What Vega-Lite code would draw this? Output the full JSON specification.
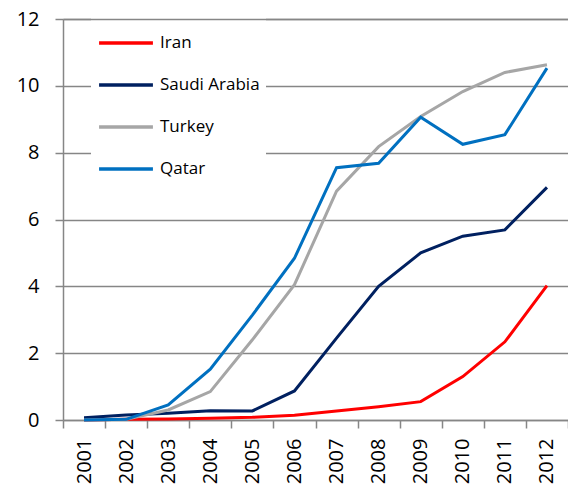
{
  "$schema": "https://vega.github.io/schema/vega-lite/v6.json",
  "width": 505,
  "height": 401,
  "autosize": "none",
  "padding": {"left": 63, "top": 19, "right": 0, "bottom": 78},
  "background": "white",
  "config": {"view": {"stroke": null}, "font": "Open Sans"},
  "data": {"values": [
    {"year": "2001", "country": "Iran", "value": 0.0},
    {"year": "2002", "country": "Iran", "value": 0.02},
    {"year": "2003", "country": "Iran", "value": 0.03},
    {"year": "2004", "country": "Iran", "value": 0.05},
    {"year": "2005", "country": "Iran", "value": 0.08},
    {"year": "2006", "country": "Iran", "value": 0.14},
    {"year": "2007", "country": "Iran", "value": 0.27},
    {"year": "2008", "country": "Iran", "value": 0.4},
    {"year": "2009", "country": "Iran", "value": 0.55},
    {"year": "2010", "country": "Iran", "value": 1.3},
    {"year": "2011", "country": "Iran", "value": 2.34},
    {"year": "2012", "country": "Iran", "value": 4.02},
    {"year": "2001", "country": "Saudi Arabia", "value": 0.07},
    {"year": "2002", "country": "Saudi Arabia", "value": 0.15},
    {"year": "2003", "country": "Saudi Arabia", "value": 0.2},
    {"year": "2004", "country": "Saudi Arabia", "value": 0.28},
    {"year": "2005", "country": "Saudi Arabia", "value": 0.27},
    {"year": "2006", "country": "Saudi Arabia", "value": 0.87},
    {"year": "2007", "country": "Saudi Arabia", "value": 2.45},
    {"year": "2008", "country": "Saudi Arabia", "value": 4.0},
    {"year": "2009", "country": "Saudi Arabia", "value": 5.0},
    {"year": "2010", "country": "Saudi Arabia", "value": 5.5},
    {"year": "2011", "country": "Saudi Arabia", "value": 5.69},
    {"year": "2012", "country": "Saudi Arabia", "value": 6.96},
    {"year": "2001", "country": "Turkey", "value": 0.0},
    {"year": "2002", "country": "Turkey", "value": 0.02},
    {"year": "2003", "country": "Turkey", "value": 0.3},
    {"year": "2004", "country": "Turkey", "value": 0.85},
    {"year": "2005", "country": "Turkey", "value": 2.4},
    {"year": "2006", "country": "Turkey", "value": 4.05},
    {"year": "2007", "country": "Turkey", "value": 6.85},
    {"year": "2008", "country": "Turkey", "value": 8.18},
    {"year": "2009", "country": "Turkey", "value": 9.08},
    {"year": "2010", "country": "Turkey", "value": 9.83},
    {"year": "2011", "country": "Turkey", "value": 10.4},
    {"year": "2012", "country": "Turkey", "value": 10.63},
    {"year": "2001", "country": "Qatar", "value": 0.0},
    {"year": "2002", "country": "Qatar", "value": 0.02},
    {"year": "2003", "country": "Qatar", "value": 0.45},
    {"year": "2004", "country": "Qatar", "value": 1.52},
    {"year": "2005", "country": "Qatar", "value": 3.14},
    {"year": "2006", "country": "Qatar", "value": 4.84},
    {"year": "2007", "country": "Qatar", "value": 7.55},
    {"year": "2008", "country": "Qatar", "value": 7.68},
    {"year": "2009", "country": "Qatar", "value": 9.06},
    {"year": "2010", "country": "Qatar", "value": 8.25},
    {"year": "2011", "country": "Qatar", "value": 8.54},
    {"year": "2012", "country": "Qatar", "value": 10.53}
  ]},
  "resolve": {"axis": {"x": "independent"}},
  "layer": [
    {
      "mark": {"type": "line", "strokeWidth": 3, "strokeJoin": "miter"},
      "encoding": {
        "x": {
          "field": "year", "type": "ordinal", "bandPosition": 0.5,
          "scale": {"type": "band", "paddingInner": 0, "paddingOuter": 0},
          "axis": {
            "title": null, "labelAngle": -90, "labelAlign": "right", "labelBaseline": "middle",
            "labelFontSize": 20, "labelColor": "black", "labelPadding": 10,
            "tickBand": "extent", "tickSize": 8, "tickColor": "#868686", "tickWidth": 1.5,
            "domainColor": "#868686", "domainWidth": 1.5, "grid": false
          }
        },
        "y": {
          "field": "value", "type": "quantitative",
          "scale": {"domain": [0, 12], "nice": false},
          "axis": {
            "title": null, "values": [0, 2, 4, 6, 8, 10, 12],
            "labelFontSize": 20, "labelColor": "black", "labelPadding": 16,
            "tickSize": 8, "tickColor": "#868686", "tickWidth": 1.5,
            "domainColor": "#868686", "domainWidth": 1.5,
            "grid": true, "gridColor": "#868686", "gridWidth": 1.5, "gridOpacity": 1
          }
        },
        "color": {
          "field": "country", "type": "nominal",
          "scale": {
            "domain": ["Iran", "Saudi Arabia", "Turkey", "Qatar"],
            "range": ["#FF0000", "#002060", "#A6A6A6", "#0070C0"]
          },
          "legend": {
            "title": null, "orient": "none", "legendX": 28, "legendY": -11,
            "fillColor": "white", "padding": 6, "zindex": 0,
            "symbolType": "stroke", "symbolSize": 2900, "symbolStrokeWidth": 3.5,
            "labelFontSize": 17, "labelColor": "black", "labelOffset": 5,
            "rowPadding": 5
          }
        }
      }
    },
    {
      "mark": {"type": "line", "opacity": 0},
      "encoding": {
        "x": {
          "field": "year", "type": "ordinal", "bandPosition": 0.5,
          "axis": {
            "orient": "top", "title": null, "labels": false, "ticks": false,
            "domainColor": "#868686", "domainWidth": 1.5, "grid": false, "zindex": 2
          }
        },
        "y": {"field": "value", "type": "quantitative"}
      }
    }
  ]
}
